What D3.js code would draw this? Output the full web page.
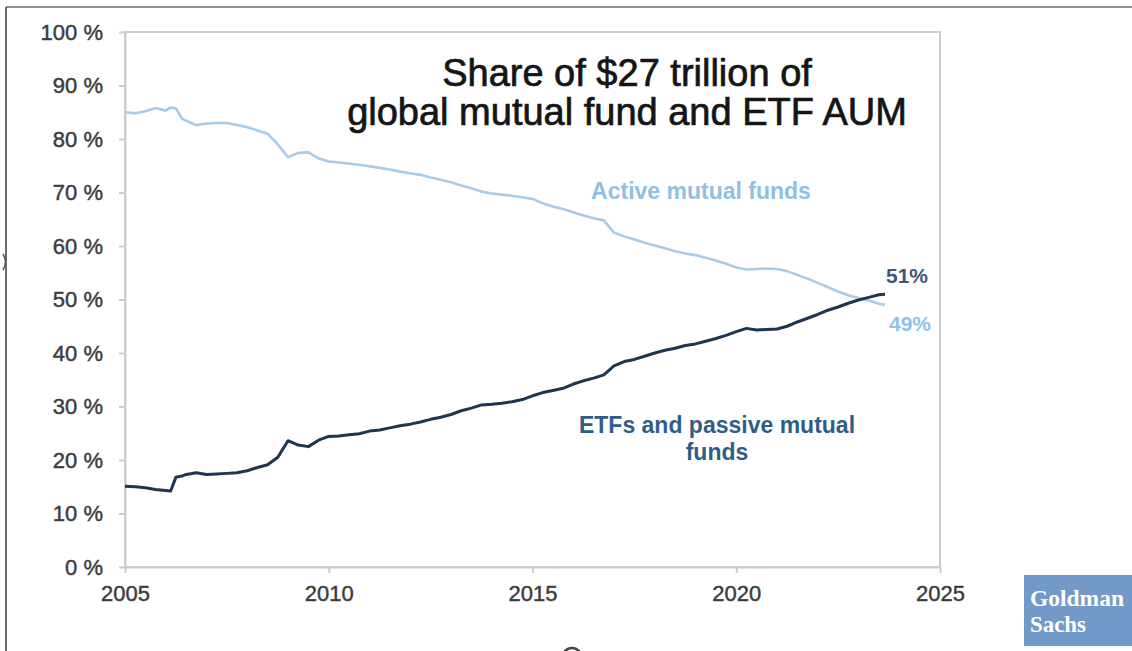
<!DOCTYPE html>
<html>
<head>
<meta charset="utf-8">
<script src="https://cdn.jsdelivr.net/npm/d3@7"></script>
<style>
  html, body { margin: 0; padding: 0; background: #ffffff; }
  svg { display: block; }
  text { font-family: "Liberation Sans", Arial, sans-serif; }
</style>
</head>
<body>
<svg id="chart" width="1132" height="651"></svg>
<script>
// Decimal years of each observation
const years = [
  2005.00, 2005.25, 2005.50, 2005.75, 2006.00, 2006.12, 2006.25, 2006.40, 2006.50, 2006.75,
  2007.00, 2007.25, 2007.50, 2007.75, 2008.00, 2008.25, 2008.50, 2008.75, 2009.00, 2009.25,
  2009.50, 2009.75, 2010.00, 2010.25, 2010.50, 2010.75, 2011.00, 2011.25, 2011.50, 2011.75,
  2012.00, 2012.25, 2012.50, 2012.75, 2013.00, 2013.25, 2013.50, 2013.75, 2014.00, 2014.25,
  2014.50, 2014.75, 2015.00, 2015.25, 2015.50, 2015.75, 2016.00, 2016.25, 2016.50, 2016.75,
  2017.00, 2017.25, 2017.50, 2017.75, 2018.00, 2018.25, 2018.50, 2018.75, 2019.00, 2019.25,
  2019.50, 2019.75, 2020.00, 2020.25, 2020.50, 2020.75, 2021.00, 2021.25, 2021.50, 2021.75,
  2022.00, 2022.25, 2022.50, 2022.75, 2023.00, 2023.25, 2023.50, 2023.65
];

// Share of AUM in active mutual funds (%)
const activeShare = [
  85.0, 84.8, 85.2, 85.8, 85.3, 85.9, 85.7, 83.8, 83.4, 82.6,
  82.9, 83.0, 83.0, 82.6, 82.2, 81.6, 81.0, 79.0, 76.6, 77.4,
  77.5, 76.4, 75.8, 75.6, 75.4, 75.2, 74.9, 74.6, 74.3, 73.9,
  73.6, 73.3, 72.8, 72.4, 71.9, 71.3, 70.8, 70.2, 69.8, 69.6,
  69.4, 69.1, 68.8, 68.0, 67.4, 66.9, 66.3, 65.7, 65.2, 64.8,
  62.5, 61.8, 61.2, 60.6, 60.1, 59.6, 59.0, 58.6, 58.3, 57.8,
  57.3, 56.7, 56.0, 55.6, 55.7, 55.8, 55.7, 55.3, 54.6, 53.9,
  53.1, 52.3, 51.5, 50.8, 50.3, 49.8, 49.2, 49.0
];

// Share of AUM in ETFs and passive mutual funds (%)
const passiveShare = [
  15.1, 15.0, 14.8, 14.5, 14.3, 14.2, 16.8, 17.0, 17.3, 17.6,
  17.3, 17.4, 17.5, 17.6, 18.0, 18.6, 19.1, 20.5, 23.6, 22.8,
  22.5, 23.7, 24.4, 24.5, 24.7, 24.9, 25.4, 25.6, 26.0, 26.4,
  26.7, 27.1, 27.6, 28.0, 28.5, 29.2, 29.7, 30.3, 30.4, 30.6,
  30.9, 31.3, 32.0, 32.6, 33.0, 33.4, 34.2, 34.8, 35.3, 35.9,
  37.6, 38.4, 38.8, 39.4, 40.0, 40.5, 40.9, 41.4, 41.7, 42.2,
  42.7, 43.3, 44.0, 44.6, 44.3, 44.4, 44.5, 45.0, 45.8, 46.5,
  47.2, 48.0, 48.6, 49.3, 49.9, 50.4, 50.9, 51.0
];

const xTicks = [2005, 2010, 2015, 2020, 2025];
const yTicks = [0, 10, 20, 30, 40, 50, 60, 70, 80, 90, 100];

const titleLines = ["Share of $27 trillion of", "global mutual fund and ETF AUM"];
const activeLabel = ["Active mutual funds"];
const passiveLabel = ["ETFs and passive mutual", "funds"];

const svg = d3.select("#chart");

const plot = { left: 125, right: 940, top: 32, bottom: 567 };

const x = d3.scaleLinear().domain([2005, 2025]).range([plot.left, plot.right]);
const y = d3.scaleLinear().domain([0, 100]).range([plot.bottom, plot.top]);

const axisGray = "#cccccc";
const activeColor = "#a7cbe8";
const passiveColor = "#1d354f";
const tickText = "#3c3c3c";

// outer frame edges
svg.append("line").attr("x1", 6).attr("x2", 1132).attr("y1", 7).attr("y2", 7)
  .attr("stroke", "#6b6b6b").attr("stroke-width", 1.5);
svg.append("line").attr("x1", 6).attr("x2", 6).attr("y1", 7).attr("y2", 651)
  .attr("stroke", "#3a3a3a").attr("stroke-width", 1.5);
svg.append("path").attr("d", "M3,254 Q8,262 3,270")
  .attr("fill", "none").attr("stroke", "#555").attr("stroke-width", 1.5);
svg.append("ellipse").attr("cx", 572).attr("cy", 661).attr("rx", 11).attr("ry", 13)
  .attr("fill", "none").attr("stroke", "#444").attr("stroke-width", 2.5);

// plot area border
svg.append("rect")
  .attr("x", plot.left).attr("y", plot.top)
  .attr("width", plot.right - plot.left).attr("height", plot.bottom - plot.top)
  .attr("fill", "none").attr("stroke", axisGray).attr("stroke-width", 2);

// y axis
const yAxis = svg.append("g")
  .attr("transform", `translate(${plot.left},0)`)
  .call(d3.axisLeft(y).tickValues(yTicks).tickSize(6).tickSizeOuter(0).tickPadding(16)
    .tickFormat(d => d + " %"));
yAxis.select(".domain").attr("stroke", axisGray).attr("stroke-width", 2);
yAxis.selectAll(".tick line").attr("stroke", axisGray).attr("stroke-width", 2);
yAxis.selectAll(".tick text")
  .attr("fill", tickText).attr("stroke", tickText).attr("stroke-width", 0.45)
  .style("font-size", "22px")
  .style("font-family", "'Liberation Sans', Arial, sans-serif");

// x axis
const xAxis = svg.append("g")
  .attr("transform", `translate(0,${plot.bottom})`)
  .call(d3.axisBottom(x).tickValues(xTicks).tickSize(6).tickSizeOuter(0).tickPadding(12)
    .tickFormat(d3.format("d")));
xAxis.select(".domain").attr("stroke", axisGray).attr("stroke-width", 2);
xAxis.selectAll(".tick line").attr("stroke", axisGray).attr("stroke-width", 2);
xAxis.selectAll(".tick text")
  .attr("fill", tickText).attr("stroke", tickText).attr("stroke-width", 0.45)
  .style("font-size", "22px")
  .style("font-family", "'Liberation Sans', Arial, sans-serif");

// series lines
const line = d3.line()
  .x((d, i) => x(years[i]))
  .y(d => y(d))
  .curve(d3.curveLinear);

svg.append("path").datum(activeShare)
  .attr("d", line)
  .attr("fill", "none").attr("stroke", activeColor)
  .attr("stroke-width", 2.6).attr("stroke-linejoin", "round");

svg.append("path").datum(passiveShare)
  .attr("d", line)
  .attr("fill", "none").attr("stroke", passiveColor)
  .attr("stroke-width", 3).attr("stroke-linejoin", "round");

// title
svg.append("text")
  .attr("text-anchor", "middle")
  .attr("fill", "#151515").attr("stroke", "#151515").attr("stroke-width", 0.7)
  .style("font-size", "38px")
  .selectAll("tspan").data(titleLines).join("tspan")
  .attr("x", 627).attr("y", (d, i) => 86 + i * 39)
  .text(d => d);

// series labels
svg.append("text")
  .attr("text-anchor", "middle")
  .attr("fill", "#8fbfe3")
  .style("font-size", "23px").style("font-weight", "bold")
  .selectAll("tspan").data(activeLabel).join("tspan")
  .attr("x", 701).attr("y", 199)
  .text(d => d);

svg.append("text")
  .attr("text-anchor", "middle")
  .attr("fill", "#2f5d87")
  .style("font-size", "23px").style("font-weight", "bold")
  .selectAll("tspan").data(passiveLabel).join("tspan")
  .attr("x", 717).attr("y", (d, i) => 433 + i * 27)
  .text(d => d);

// end-of-series value labels
const lastIdx = years.length - 1;
svg.append("text")
  .attr("x", 886).attr("y", 283)
  .attr("fill", "#3b5876")
  .style("font-size", "21px").style("font-weight", "bold")
  .text(Math.round(passiveShare[lastIdx]) + "%");
svg.append("text")
  .attr("x", 889).attr("y", 331)
  .attr("fill", "#8ec2e7")
  .style("font-size", "21px").style("font-weight", "bold")
  .text(Math.round(activeShare[lastIdx]) + "%");

// logo block
const logo = svg.append("g");
logo.append("rect")
  .attr("x", 1024).attr("y", 575).attr("width", 108).attr("height", 71)
  .attr("fill", "#7299c7");
logo.append("text")
  .attr("x", 1030).attr("y", 606)
  .attr("fill", "#ffffff")
  .attr("textLength", 94).attr("lengthAdjust", "spacingAndGlyphs")
  .style("font-family", "'Liberation Serif', 'DejaVu Serif', serif")
  .style("font-size", "23px").style("font-weight", "bold")
  .text("Goldman");
logo.append("text")
  .attr("x", 1030).attr("y", 632)
  .attr("fill", "#ffffff")
  .attr("textLength", 56).attr("lengthAdjust", "spacingAndGlyphs")
  .style("font-family", "'Liberation Serif', 'DejaVu Serif', serif")
  .style("font-size", "23px").style("font-weight", "bold")
  .text("Sachs");
</script>
</body>
</html>
